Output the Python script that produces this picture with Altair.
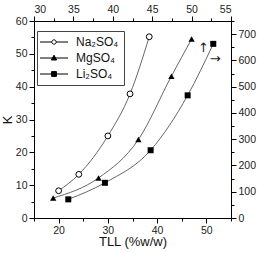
import altair as alt
import pandas as pd

# ---- data ----
series = ["Na₂SO₄", "MgSO₄", "Li₂SO₄"]

na_tll = [20.0, 24.1, 30.0, 34.5, 38.4]
na_k = [8.3, 13.3, 25.0, 37.8, 55.2]

mg_tll = [18.9, 28.1, 36.2, 42.9, 47.0]
mg_k = [6.1, 12.2, 23.9, 43.2, 54.5]

# Li2SO4 is read on the top (TLL) and right (K) axes
li_tll = [34.35, 39.0, 44.8, 49.5, 52.75]
li_k = [71, 134, 258, 467, 663]

# arrows pointing to the top / right axes (in Li2SO4 axis units)
arrow_glyphs = ["↑", "→"]
arrow_tll = [51.5, 53.0]
arrow_k = [648, 605]

FONT = "Liberation Sans"

na = pd.DataFrame({"series": series[0], "tll": na_tll, "k": na_k})
mg = pd.DataFrame({"series": series[1], "tll": mg_tll, "k": mg_k})
li = pd.DataFrame({"series": series[2], "tll": li_tll, "k": li_k})
ab = pd.concat([na, mg], ignore_index=True)
arrows = pd.DataFrame({"glyph": arrow_glyphs, "tll": arrow_tll, "k": arrow_k})


def tick_size(test):
    return {"condition": {"test": test, "value": 5}, "value": 3}


x_bottom = alt.X(
    "tll:Q",
    scale=alt.Scale(domain=[15, 55], nice=False, zero=False),
    axis=alt.Axis(
        orient="bottom",
        values=list(range(15, 56, 5)),
        labelExpr="datum.value % 10 === 0 ? datum.label : ''",
        tickSize=tick_size("datum.value % 10 === 0"),
        title="TLL (%w/w)",
        titlePadding=0,
    ),
)
y_left = alt.Y(
    "k:Q",
    scale=alt.Scale(domain=[0, 60], nice=False),
    axis=alt.Axis(
        orient="left",
        values=list(range(0, 61, 5)),
        labelExpr="datum.value % 10 === 0 ? datum.label : ''",
        tickSize=tick_size("datum.value % 10 === 0"),
        title="K",
        titlePadding=1,
    ),
)
x_top = alt.X(
    "tll:Q",
    scale=alt.Scale(domain=[30, 55], nice=False, zero=False),
    axis=alt.Axis(
        orient="top",
        values=[30 + 2.5 * i for i in range(11)],
        labelExpr="datum.value % 5 === 0 ? datum.label : ''",
        tickSize=tick_size("datum.value % 5 === 0"),
        title=None,
    ),
)
y_right = alt.Y(
    "k:Q",
    scale=alt.Scale(domain=[0, 750], nice=False),
    axis=alt.Axis(
        orient="right",
        values=list(range(0, 751, 50)),
        labelExpr="datum.value % 100 === 0 ? datum.label : ''",
        tickSize=tick_size("datum.value % 100 === 0"),
        title=None,
    ),
)

LINE = dict(interpolate="monotone", color="#555555", strokeWidth=0.9)

line_a = alt.Chart(ab).mark_line(**LINE).encode(x=x_bottom, y=y_left, detail="series:N")
na_pts = alt.Chart(na).mark_point(
    shape="circle", filled=True, fill="white", stroke="black", strokeWidth=1, size=34, opacity=1
).encode(x=x_bottom, y=y_left)
mg_pts = alt.Chart(mg).mark_point(
    shape="triangle-up", filled=True, color="black", size=40, opacity=1
).encode(x=x_bottom, y=y_left)
layer_a = alt.layer(line_a, na_pts, mg_pts)

line_b = alt.Chart(li).mark_line(**LINE).encode(x=x_top, y=y_right)
li_pts = alt.Chart(li).mark_point(
    shape="square", filled=True, color="black", size=36, opacity=1
).encode(x=x_top, y=y_right)
arrow_txt = alt.Chart(arrows).mark_text(
    font="DejaVu Sans", fontSize=13, color="#222222"
).encode(x=x_top, y=y_right, text="glyph:N")
layer_b = alt.layer(line_b, li_pts, arrow_txt)

# legend symbols: short line with the marker (custom paths, scale 4 px/unit)
paths = [
    "M-2,0L0.95,0M2.05,0L5,0M0.95,0A0.55,0.55 0 1,0 2.05,0A0.55,0.55 0 1,0 0.95,0",
    "M-2,0L5,0M1.5,-0.7L2.15,0.5L0.85,0.5Z",
    "M-2,0L5,0M0.9,-0.6L2.1,-0.6L2.1,0.6L0.9,0.6Z",
]
leg = alt.Legend(
    orient="none",
    legendX=3,
    legendY=10,
    title=None,
    padding=5,
    strokeColor="#444444",
    fillColor="white",
    symbolSize=64,
    symbolStrokeWidth=1,
    symbolOpacity=1,
    labelFont=FONT,
    labelFontSize=12,
    labelColor="#111111",
    labelOffset=22,
    rowPadding=4,
)
legend_layer = alt.Chart(pd.DataFrame({"series": series})).mark_point(
    filled=True, size=64
).encode(
    shape=alt.Shape("series:N", scale=alt.Scale(domain=series, range=paths), legend=leg),
    fill=alt.Fill("series:N", scale=alt.Scale(domain=series, range=["white", "black", "black"]), legend=leg),
    stroke=alt.Stroke("series:N", scale=alt.Scale(domain=series, range=["black", "black", "black"]), legend=leg),
).transform_filter("false")

chart = alt.layer(layer_a, layer_b, legend_layer).resolve_scale(
    x="independent", y="independent"
).properties(
    width=197,
    height=197,
    background="white",
    autosize=alt.AutoSizeParams(type="none"),
    padding={"left": 34, "top": 21, "right": 27, "bottom": 35},
).configure_view(
    stroke=None
).configure_axis(
    grid=False,
    domainColor="black",
    tickColor="black",
    labelColor="#222222",
    labelFont=FONT,
    labelFontSize=10.5,
    labelPadding=2,
    titleFont=FONT,
    titleFontSize=13,
    titleFontWeight="normal",
    titleColor="#111111",
)

chart.save("out.html", embed_options={"renderer": "svg", "actions": False})
